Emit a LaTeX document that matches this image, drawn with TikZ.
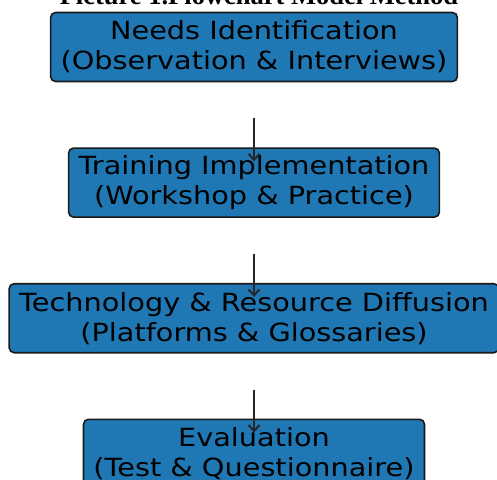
\documentclass[tikz,border=0pt]{standalone}
\usepackage{fontspec}
\setmainfont{DejaVu Sans}
\newfontfamily\boxfont[FakeStretch=1.15]{DejaVu Sans}
\newfontfamily\titlefont{Liberation Serif}
\usetikzlibrary{positioning,arrows.meta}
\definecolor{boxblue}{HTML}{1F77B4}
\tikzset{block/.style={draw=black!90, line width=1.6pt, fill=boxblue, rounded corners=5pt, inner xsep=10pt, minimum height=69pt, align=center, font=\boxfont\fontsize{25}{30}\selectfont}, line/.style={-{Straight Barb[length=6pt,width=11pt]}, line width=2pt, draw=black!85}}

\begin{document}
\begin{tikzpicture}
    \useasboundingbox (0,0) rectangle (497pt,-479pt);
    \clip (0,0) rectangle (497pt,-479pt);
    \node[font=\titlefont\bfseries\fontsize{26.5}{30}\selectfont, anchor=base] (title) at (259pt,-5pt) {Picture 1.Flowchart Model Method};
    \node[block] (needs) at (254pt,-47pt) {Needs Identification\\(Observation \& Interviews)};
    \node[block,below=65pt of needs]  (train) {Training Implementation\\(Workshop \& Practice)};
    \node[block,below=65pt of train]  (diff)  {Technology \& Resource Diffusion\\(Platforms \& Glossaries)};
    \node[block,below=65pt of diff]   (eval)  {Evaluation\\(Test \& Questionnaire)};

    \draw[line] ([yshift=-36pt]needs.south) -- ([yshift=-14pt]train.north);
    \draw[line] ([yshift=-36pt]train.south) -- ([yshift=-14pt]diff.north);
    \draw[line] ([yshift=-36pt]diff.south)  -- ([yshift=-14pt]eval.north);
\end{tikzpicture}
\end{document}
